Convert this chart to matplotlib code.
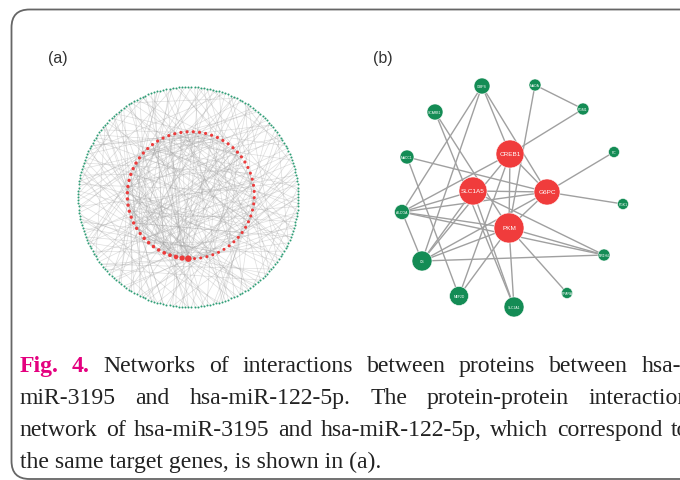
import numpy as np
import matplotlib
matplotlib.use("Agg")
import matplotlib.pyplot as plt
from matplotlib.patches import Circle, FancyBboxPatch
from matplotlib.collections import LineCollection

# ---------------- data: panel (a) ----------------
n_red = 64
# red (inner ring) node that each green (outer ring) node links to
green_target = [
    5,41,17,59,28,63,9,36,52,14,47,22,58,3,31,44,11,56,25,38,
    60,7,49,19,33,57,2,45,27,53,12,39,61,21,48,6,35,59,16,42,
    29,55,1,37,50,13,58,24,43,8,62,30,46,18,57,4,34,51,23,40,
    10,59,26,44,15,53,32,0,48,20,58,37,6,55,28,41,12,63,19,46,
    35,2,57,24,50,9,39,59,17,43,27,54,4,31,47,14,58,22,36,60,
    8,45,29,56,11,40,21,52,59,3,33,49,16,42,25,57,7,38,54,18,
    62,30,44,13,58,26,51,5,35,47,20,59,1,41,28,56,10,37,53,23,
    43,15,59,32,6,48,24,55,39,12,57,27,45,2,34,61,19,50,30,58,
    9,40,22,53,14,36,59,4,46,31,18,56,26,43,11,52,38,57,21,33,
    0,47,16,58,29,42,7,54,25,59,35,13,49,3,39,20,56,44,27,10,
    57,32,51,18,45,8,59,23,37,55,14,41,1,58,30,48,5,34,52,26,
]
red_red_edges = [
    (59,12),(59,25),(59,33),(59,40),(58,5),(58,20),(58,31),(57,9),(57,44),
    (56,15),(56,28),(55,2),(55,37),(54,18),(54,47),(53,7),(53,30),(52,22),
    (52,41),(51,11),(51,35),(50,3),(50,26),(49,16),(49,39),(48,8),(48,29),
    (47,21),(46,13),(46,34),(45,1),(45,24),(44,17),(43,6),(42,27),(41,10),
    (40,19),(39,4),(38,23),(36,14),(35,0),(33,9),(32,20),(30,12),(28,3),
    (26,16),(25,7),(22,11),(19,2),(59,50),(60,12),(61,30),(62,45),(63,5),
    (58,36),(57,27),(56,43),(55,14),(54,6),(59,55),(58,53),(57,52),
]
green_green_edges = [
    (3,60),(10,95),(18,45),(25,130),(33,70),(41,150),(52,88),(60,115),
    (68,170),(77,20),(85,140),(93,200),(101,35),(110,160),(118,190),
    (126,55),(134,210),(142,80),(150,5),(158,100),(166,215),(174,120),
    (182,30),(190,145),(198,65),(206,175),(214,90),(12,180),(48,125),
    (73,205),(105,185),(138,15),(162,50),(194,110),(7,38),(29,99),
    (57,83),(121,152),(169,197),(201,16),
]

# ---------------- data: panel (b) ----------------
b_names = ["GMPS", "MAOA", "PGM1", "SCARB1", "CREB1", "MACC1", "PC",
           "SLC1A5", "G6PC", "PGK1", "ALDOA", "PKM", "CS", "NR1H4",
           "PPARA", "MEF2D", "SLC2A1"]
b_hub = ["CREB1", "SLC1A5", "G6PC", "PKM"]
b_edges = [
    ("GMPS","CREB1"),("GMPS","G6PC"),("GMPS","ALDOA"),("GMPS","CS"),
    ("MAOA","PGM1"),("MAOA","PKM"),("PGM1","CREB1"),
    ("SCARB1","PKM"),("SCARB1","SLC2A1"),
    ("MACC1","G6PC"),("MACC1","MEF2D"),
    ("CREB1","ALDOA"),("CREB1","CS"),("CREB1","MEF2D"),("CREB1","PKM"),
    ("CREB1","G6PC"),
    ("G6PC","PC"),("G6PC","PGK1"),("G6PC","ALDOA"),("G6PC","CS"),
    ("G6PC","PKM"),("G6PC","SLC1A5"),
    ("SLC1A5","ALDOA"),("SLC1A5","CS"),("SLC1A5","SLC2A1"),
    ("SLC1A5","NR1H4"),
    ("ALDOA","PKM"),("ALDOA","NR1H4"),("ALDOA","CS"),
    ("PKM","CS"),("PKM","NR1H4"),("PKM","PPARA"),("PKM","MEF2D"),
    ("PKM","SLC2A1"),("CS","NR1H4"),
]

# ---------------- caption ----------------
cap_lines = [
    ["Fig.", "4.", "Networks", "of", "interactions", "between", "proteins",
     "between", "hsa-"],
    ["miR-3195", "and", "hsa-miR-122-5p.", "The", "protein-protein",
     "interaction"],
    ["network", "of", "hsa-miR-3195", "and", "hsa-miR-122-5p,", "which",
     "correspond", "to"],
    ["the", "same", "target", "genes,", "is", "shown", "in", "(a)."],
]
cap_bold = {"Fig.", "4."}

# ---------------- layout (pixels) ----------------
W, H = 680, 481
fig = plt.figure(figsize=(W / 100, H / 100), dpi=100)
ax = fig.add_axes([0, 0, 1, 1])
ax.set_xlim(0, W)
ax.set_ylim(H, 0)
ax.axis("off")

# frame
frame = FancyBboxPatch((11.5, 10.5), 720, 469.5,
                       boxstyle="round,pad=0,rounding_size=18",
                       fc="white", ec="#666666", lw=1.3, zorder=0)
ax.add_patch(frame)

# panel labels
ax.text(58, 59, "(a)", fontsize=11.5, family="Liberation Sans",
        color="#333333", ha="center", va="center")
ax.text(383, 59, "(b)", fontsize=11.5, family="Liberation Sans",
        color="#333333", ha="center", va="center")

# ---- panel (a) ----
ocx, ocy, orad = 188.3, 198.0, 110.0
icx, icy, irad = 190.8, 196.2, 63.5
n_green = len(green_target)
deg = np.zeros(n_red)
for t in green_target:
    deg[t] += 1
for a, b in red_red_edges:
    deg[a] += 1
    deg[b] += 1
order = np.argsort(deg, kind="stable")
rank = np.empty(n_red, dtype=int)
rank[order] = np.arange(n_red)
th_r = np.deg2rad(-90 + (rank + 0.6) * 360.0 / n_red)
rx = icx + irad * np.cos(th_r)
ry = icy - irad * np.sin(th_r)
th_g = np.deg2rad(90 - np.arange(n_green) * 360.0 / n_green)
gx = ocx + orad * np.cos(th_g)
gy = ocy - orad * np.sin(th_g)

segs = []
for j, t in enumerate(green_target):
    segs.append([(gx[j], gy[j]), (rx[t], ry[t])])
for a, b in red_red_edges:
    segs.append([(rx[a], ry[a]), (rx[b], ry[b])])
for a, b in green_green_edges:
    segs.append([(gx[a], gy[a]), (gx[b], gy[b])])
ax.add_collection(LineCollection(segs, colors="#a2a2a2", linewidths=0.5,
                                 alpha=0.35, zorder=1))

ax.scatter(gx, gy, s=(0.72 * 2.0) ** 2, color="#2f9e76", lw=0, zorder=3)
dn = (deg - deg.min()) / (deg.max() - deg.min())
dia = 3.0 + 3.5 * dn ** 1.6
ax.scatter(rx, ry, s=(0.72 * dia) ** 2, color="#ec3b3b", lw=0, zorder=3)

# ---- panel (b) ----
b_pos = {
    "GMPS": (482, 87, 8), "MAOA": (535, 86, 6), "PGM1": (583, 110, 6),
    "SCARB1": (435, 113, 8), "CREB1": (510, 155, 14), "MACC1": (407, 158, 7),
    "PC": (614, 153, 5.5), "SLC1A5": (473, 192, 14), "G6PC": (547, 193, 13),
    "PGK1": (623, 205, 5.5), "ALDOA": (402, 213, 7.5), "PKM": (509, 229, 15),
    "CS": (422, 262, 10), "NR1H4": (604, 256, 6), "PPARA": (567, 294, 5.5),
    "MEF2D": (459, 297, 9.5), "SLC2A1": (514, 308, 10),
}
bsegs = [[b_pos[a][:2], b_pos[b][:2]] for a, b in b_edges]
ax.add_collection(LineCollection(bsegs, colors="#a0a0a0", linewidths=1.0,
                                 zorder=4))
for nm in b_names:
    x, y, r = b_pos[nm]
    hub = nm in b_hub
    ax.add_patch(Circle((x, y), r, fc="#f03c3c" if hub else "#148c55",
                        ec="white", lw=0.4, zorder=5))
    ax.text(x, y, nm, fontsize=4.6 if hub else 2.4, color="white",
            family="Liberation Sans", ha="center", va="center", zorder=6)

# ---- caption ----
fig.canvas.draw()
ren = fig.canvas.get_renderer()
serif = "Liberation Serif"
probe = ax.text(0, 0, " ".join(cap_lines[3]), fontsize=16.8, family=serif)
wprobe = probe.get_window_extent(ren).width
probe.remove()
fs = 16.8 * 363.0 / wprobe
fs = min(max(fs, 15.0), 18.0)

L = 19.5
R_edges = [681.0, 690.0, 689.0]
baselines = [372, 404, 436, 468]
for li, words in enumerate(cap_lines):
    yb = baselines[li]
    if li == 3:
        ax.text(L, yb, " ".join(words), fontsize=fs, family=serif,
                color="#222222", va="baseline", ha="left")
        continue
    objs = []
    for w in words:
        b = w in cap_bold
        t = ax.text(0, yb, w, fontsize=fs, family=serif, va="baseline",
                    ha="left", fontweight="bold" if b else "normal",
                    color="#e4007f" if b else "#222222")
        objs.append(t)
    widths = [o.get_window_extent(ren).width for o in objs]
    gap = (R_edges[li] - L - sum(widths)) / (len(objs) - 1)
    x = L
    for o, wd in zip(objs, widths):
        o.set_x(x)
        x += wd + gap

fig.savefig("out.png", dpi=100)
